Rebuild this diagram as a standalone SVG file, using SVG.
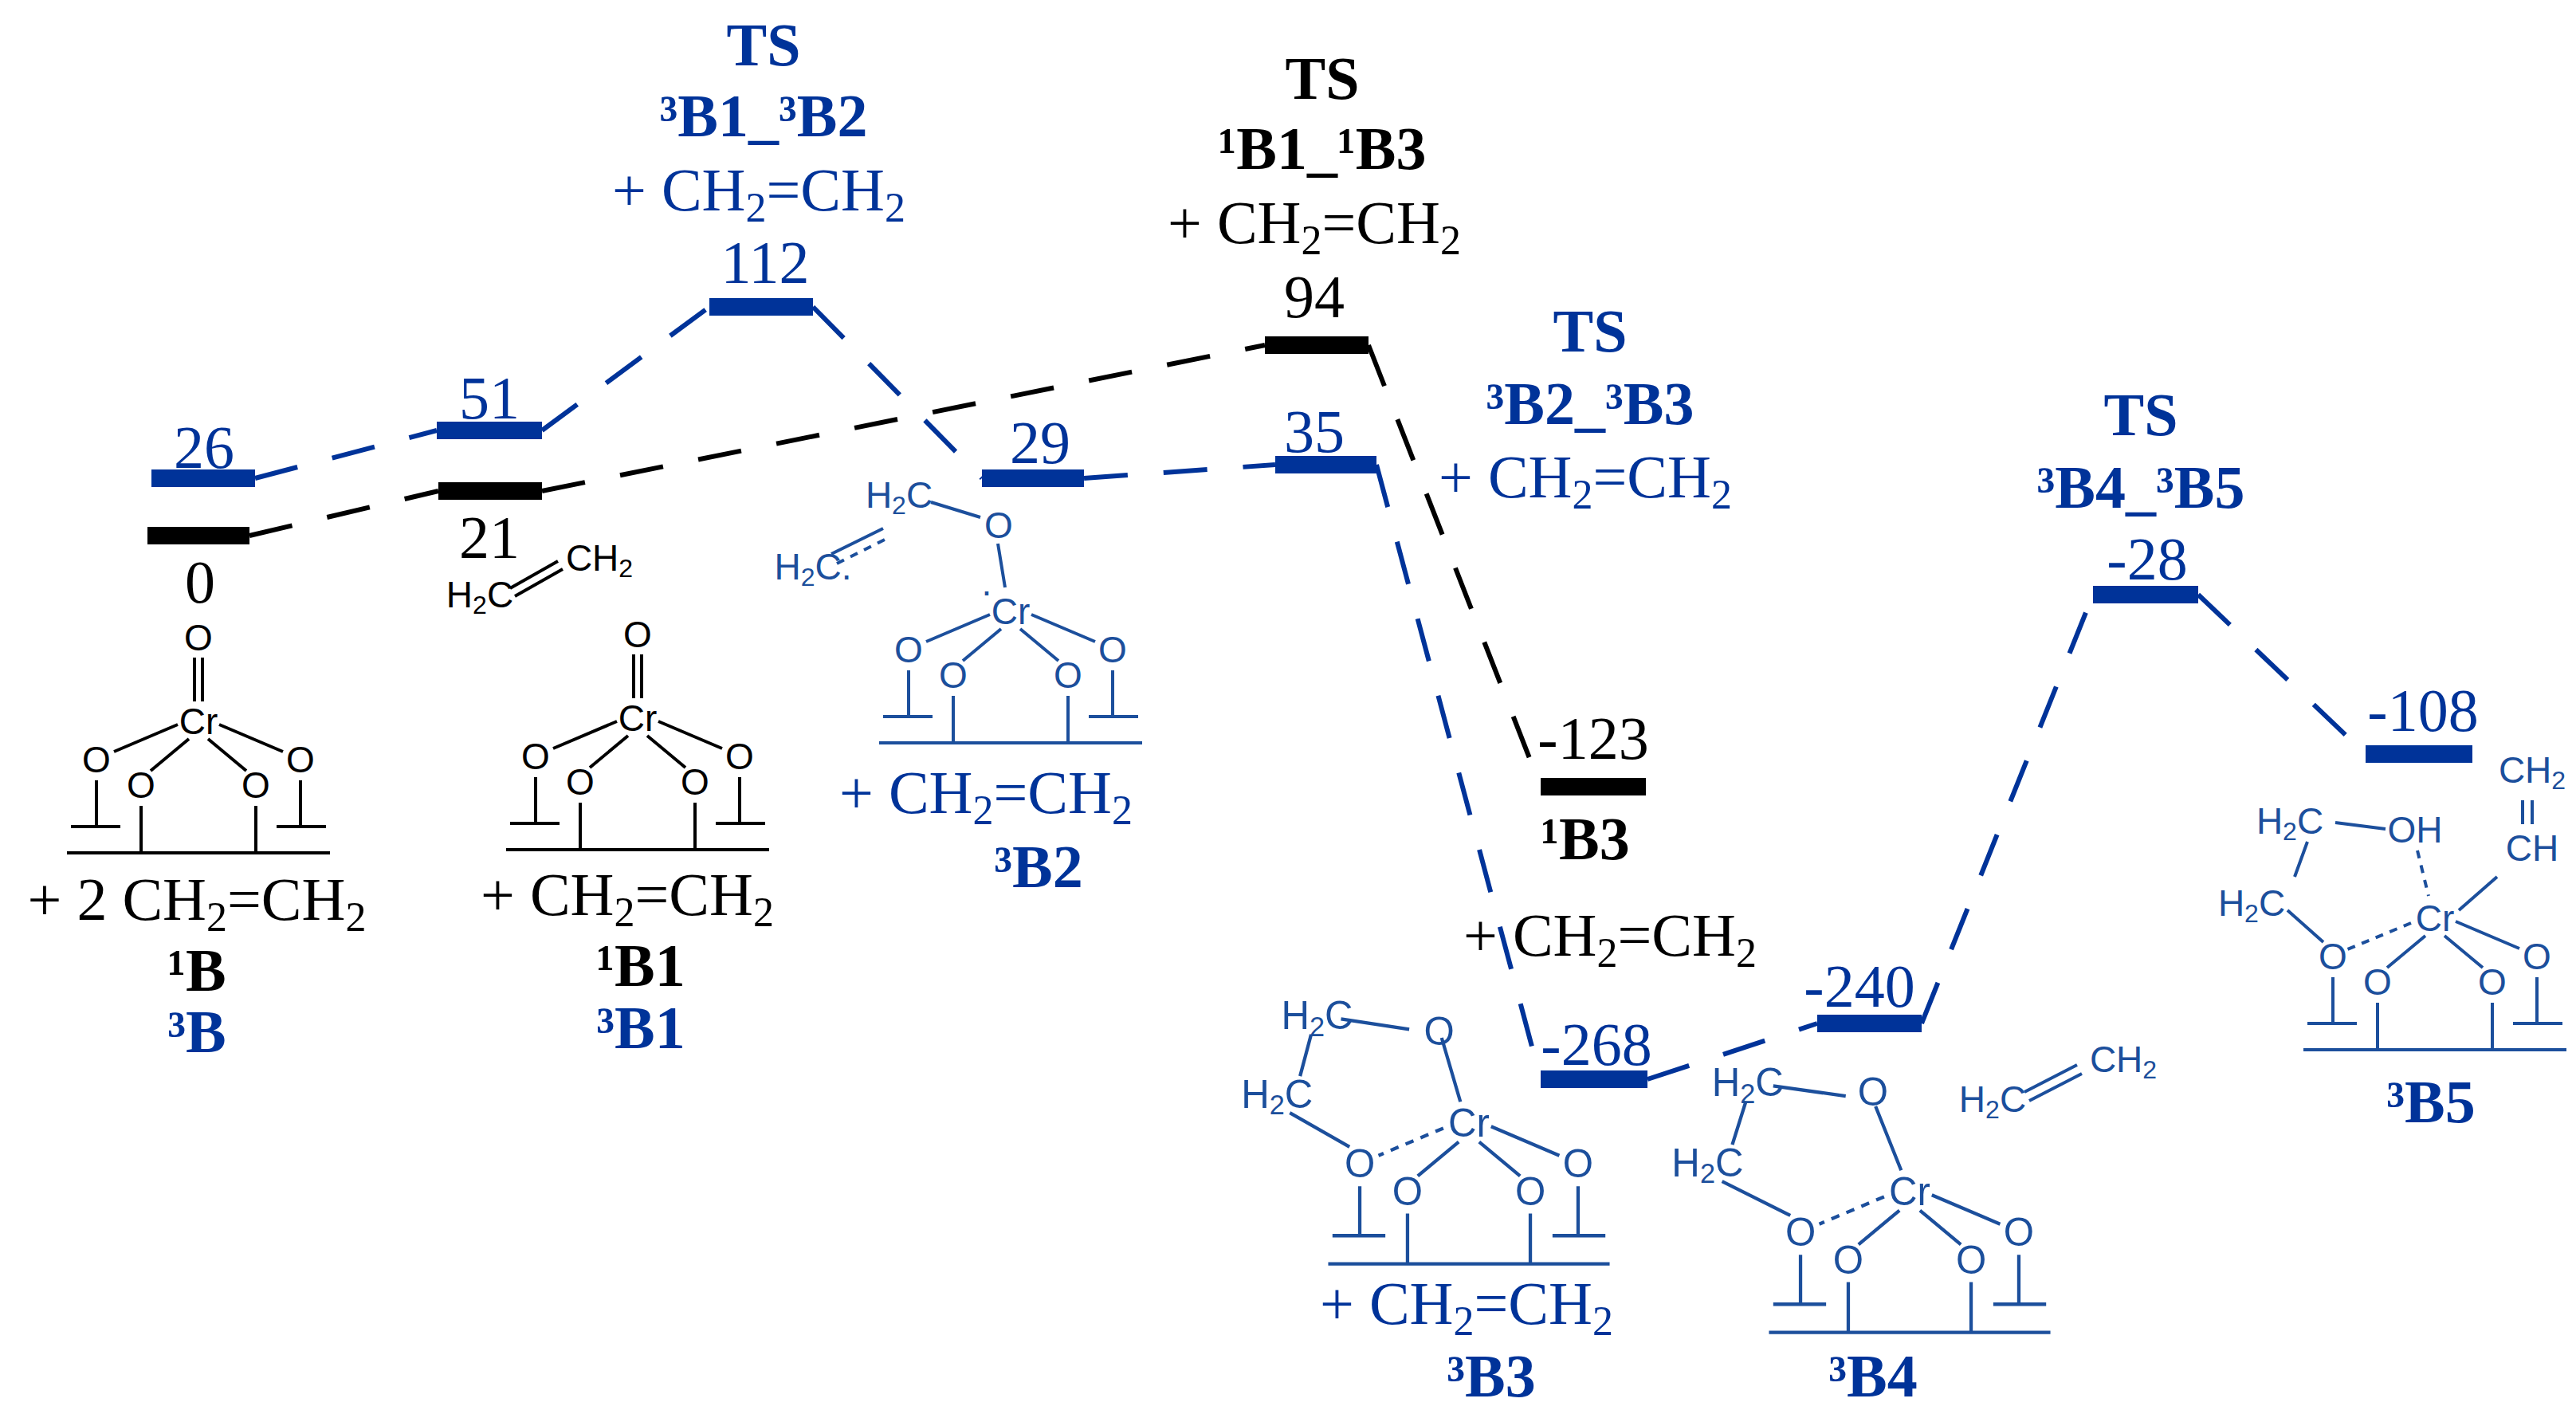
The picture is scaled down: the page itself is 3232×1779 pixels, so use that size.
<svg xmlns="http://www.w3.org/2000/svg" width="3232" height="1779" viewBox="0 0 3232 1779">
<style>
.t{font-family:"Liberation Serif",serif;font-size:76px;text-anchor:middle}
.b{font-weight:bold}
.bl{fill:#003399}
.k{fill:#000}
.m{font-family:"Liberation Sans",sans-serif;font-size:46px;text-anchor:middle;fill:currentColor;stroke:none}
.mb{fill:#1c4f9c}
.ck{color:#000}
.cb{color:#1c4f9c}
.ln{stroke:currentColor;stroke-width:4;fill:none}
.lk{stroke:#000;stroke-width:4;fill:none}
.lb{stroke:#1c4f9c;stroke-width:4;fill:none}
.dk{stroke:#000;stroke-width:6;fill:none;stroke-dasharray:55 45}
.db{stroke:#003399;stroke-width:6;fill:none;stroke-dasharray:55 45}
.ds{stroke-dasharray:10 9}
</style>
<defs>
<g id="base">
<text class="m" x="0" y="16">Cr</text>
<text class="m" x="-128" y="64">O</text>
<text class="m" x="128" y="64">O</text>
<text class="m" x="-72" y="96">O</text>
<text class="m" x="72" y="96">O</text>
<path class="ln" d="M-128,74V132M-160,132H-98M128,74V132M98,132H160M-72,106V165M72,106V165M-165,165H165M-12,22L-60,62M12,22L60,62M26,4L106,38"/>
</g>
</defs>
<g id="connectors">
<path class="dk" d="M313,672L550,616M680,616L1587,433M1717,433L1933,987"/>
<path class="db" d="M320,600L548,540M680,540L890,385M1020,385L1232,600M1360,600L1600,583M1727,583L1933,1354M2067,1354L2280,1284M2411,1284L2626,746M2758,746L2968,946"/>
</g>
<g id="levels">
<rect x="185" y="661" width="128" height="22" fill="#000"/>
<rect x="190" y="589" width="130" height="22" fill="#003399"/>
<rect x="550" y="605" width="130" height="22" fill="#000"/>
<rect x="548" y="529" width="132" height="22" fill="#003399"/>
<rect x="890" y="374" width="130" height="22" fill="#003399"/>
<rect x="1232" y="589" width="128" height="22" fill="#003399"/>
<rect x="1587" y="422" width="130" height="22" fill="#000"/>
<rect x="1600" y="572" width="127" height="22" fill="#003399"/>
<rect x="1933" y="976" width="132" height="22" fill="#000"/>
<rect x="1933" y="1343" width="134" height="22" fill="#003399"/>
<rect x="2280" y="1273" width="131" height="22" fill="#003399"/>
<rect x="2626" y="735" width="132" height="22" fill="#003399"/>
<rect x="2968" y="935" width="134" height="22" fill="#003399"/>
</g>
<g id="values">
<text class="t k" x="251" y="756">0</text>
<text class="t bl" x="256" y="587">26</text>
<text class="t k" x="614" y="700">21</text>
<text class="t bl" x="614" y="525">51</text>
<text class="t bl" x="960" y="355">112</text>
<text class="t bl" x="1305" y="581">29</text>
<text class="t k" x="1649" y="398">94</text>
<text class="t bl" x="1649" y="567">35</text>
<text class="t k" x="1999" y="952">-123</text>
<text class="t bl" x="2003" y="1336">-268</text>
<text class="t bl" x="2333" y="1263">-240</text>
<text class="t bl" x="2694" y="727">-28</text>
<text class="t bl" x="3040" y="917">-108</text>
</g>
<g id="ts1">
<text class="t b bl" x="958" y="82">TS</text>
<text class="t b bl" x="958" y="171">³B1_³B2</text>
<text class="t bl" x="952" y="264">+ CH<tspan font-size="52" dy="14">2</tspan><tspan dy="-14">=CH</tspan><tspan font-size="52" dy="14">2</tspan></text>
</g>
<g id="ts2">
<text class="t b k" x="1659" y="124">TS</text>
<text class="t b k" x="1659" y="212">¹B1_¹B3</text>
<text class="t k" x="1649" y="305">+ CH<tspan font-size="52" dy="14">2</tspan><tspan dy="-14">=CH</tspan><tspan font-size="52" dy="14">2</tspan></text>
</g>
<g id="ts3">
<text class="t b bl" x="1995" y="441">TS</text>
<text class="t b bl" x="1995" y="532">³B2_³B3</text>
<text class="t bl" x="1989" y="624">+ CH<tspan font-size="52" dy="14">2</tspan><tspan dy="-14">=CH</tspan><tspan font-size="52" dy="14">2</tspan></text>
</g>
<g id="ts4">
<text class="t b bl" x="2686" y="546">TS</text>
<text class="t b bl" x="2686" y="637">³B4_³B5</text>
</g>
<g id="B">
<g class="ck" transform="translate(249,905)"><use href="#base"/><path class="ln" d="M-26,4L-106,38M-5,-80V-25M5,-80V-25"/><text class="m" x="0" y="-89">O</text></g>
<text class="t k" x="247" y="1154">+ 2 CH<tspan font-size="52" dy="14">2</tspan><tspan dy="-14">=CH</tspan><tspan font-size="52" dy="14">2</tspan></text>
<text class="t b k" x="247" y="1243">¹B</text>
<text class="t b bl" x="247" y="1320">³B</text>
</g>
<g id="B1">
<g class="ck" transform="translate(800,901)"><use href="#base"/><path class="ln" d="M-26,4L-106,38M-5,-80V-25M5,-80V-25"/><text class="m" x="0" y="-89">O</text></g>
<text class="m k" x="602" y="762">H<tspan font-size="32" dy="8">2</tspan><tspan dy="-8">C</tspan></text>
<text class="m k" x="752" y="716">CH<tspan font-size="32" dy="8">2</tspan></text>
<path class="lk" d="M640,738L700,704M646,748L706,714"/>
<text class="t k" x="787" y="1148">+ CH<tspan font-size="52" dy="14">2</tspan><tspan dy="-14">=CH</tspan><tspan font-size="52" dy="14">2</tspan></text>
<text class="t b k" x="804" y="1237">¹B1</text>
<text class="t b bl" x="804" y="1315">³B1</text>
</g>
<g id="B2">
<g class="cb" transform="translate(1268,767)"><use href="#base"/><path class="ln" d="M-26,4L-106,38M-16,-85L-7,-30M-100,-137L-38,-118M-225,-72L-160,-104"/><path class="ln ds" d="M-218,-60L-154,-92"/>
<text class="m" x="-15" y="-92">O</text><text class="m" x="-140" y="-130">H<tspan font-size="32" dy="8">2</tspan><tspan dy="-8">C</tspan></text><text class="m" x="-248" y="-40">H<tspan font-size="32" dy="8">2</tspan><tspan dy="-8">C.</tspan></text><text class="m" x="-30" y="-10">·</text></g>
<text class="t bl" x="1237" y="1020">+ CH<tspan font-size="52" dy="14">2</tspan><tspan dy="-14">=CH</tspan><tspan font-size="52" dy="14">2</tspan></text>
<text class="t b bl" x="1303" y="1113">³B2</text>
</g>
<g id="B3">
<g class="cb" transform="translate(1843,1409) scale(1.07)"><use href="#base"/><path class="ln ds" d="M-30,6L-106,38"/><path class="ln" d="M-32,-100L-10,-25M-150,-122L-70,-110M-185,-104L-198,-55M-210,-12L-140,28"/>
<text class="m" x="-35" y="-92">O</text><text class="m" x="-178" y="-110">H<tspan font-size="32" dy="8">2</tspan><tspan dy="-8">C</tspan></text><text class="m" x="-225" y="-18">H<tspan font-size="32" dy="8">2</tspan><tspan dy="-8">C</tspan></text></g>
<text class="t bl" x="1840" y="1661">+ CH<tspan font-size="52" dy="14">2</tspan><tspan dy="-14">=CH</tspan><tspan font-size="52" dy="14">2</tspan></text>
<text class="t b bl" x="1871" y="1752">³B3</text>
</g>
<g id="B4">
<g class="cb" transform="translate(2396,1495) scale(1.07)"><use href="#base"/><path class="ln ds" d="M-30,6L-106,38"/><path class="ln" d="M-40,-100L-10,-25M-160,-124L-75,-112M-192,-106L-208,-55M-220,-12L-140,28"/>
<text class="m" x="-43" y="-101">O</text><text class="m" x="-190" y="-112">H<tspan font-size="32" dy="8">2</tspan><tspan dy="-8">C</tspan></text><text class="m" x="-237" y="-18">H<tspan font-size="32" dy="8">2</tspan><tspan dy="-8">C</tspan></text></g>
<text class="m mb" x="2500" y="1395">H<tspan font-size="32" dy="8">2</tspan><tspan dy="-8">C</tspan></text>
<text class="m mb" x="2664" y="1345">CH<tspan font-size="32" dy="8">2</tspan></text>
<path class="lb" d="M2540,1370L2606,1336M2546,1381L2612,1347"/>
<text class="t b bl" x="2350" y="1752">³B4</text>
</g>
<g id="B5">
<g class="cb" transform="translate(3055,1152)"><use href="#base"/><path class="ln ds" d="M-30,6L-112,40M-22,-85L-8,-28"/><path class="ln" d="M-125,-120L-62,-112M-160,-96L-176,-52M-185,-10L-140,30M30,-10L78,-52M110,-118V-148M122,-118V-148"/>
<text class="m" x="-25" y="-95">OH</text><text class="m" x="-182" y="-106">H<tspan font-size="32" dy="8">2</tspan><tspan dy="-8">C</tspan></text><text class="m" x="-230" y="-3">H<tspan font-size="32" dy="8">2</tspan><tspan dy="-8">C</tspan></text><text class="m" x="122" y="-72">CH</text><text class="m" x="122" y="-170">CH<tspan font-size="32" dy="8">2</tspan></text></g>
<text class="t b bl" x="3050" y="1408">³B5</text>
</g>
<g id="B3s">
<text class="t b k" x="1989" y="1078">¹B3</text>
<text class="t k" x="2020" y="1199">+ CH<tspan font-size="52" dy="14">2</tspan><tspan dy="-14">=CH</tspan><tspan font-size="52" dy="14">2</tspan></text>
</g>
</svg>
